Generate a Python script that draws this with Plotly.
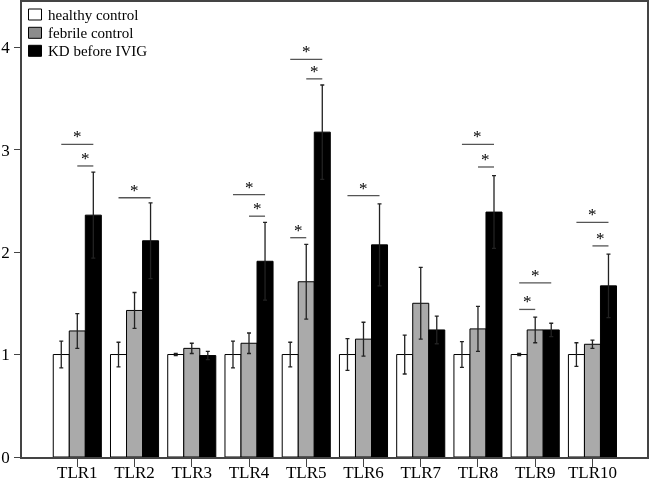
import plotly.graph_objects as go

categories = ["TLR1", "TLR2", "TLR3", "TLR4", "TLR5", "TLR6", "TLR7", "TLR8", "TLR9", "TLR10"]

healthy = [1.0, 1.0, 1.0, 1.0, 1.0, 1.0, 1.0, 1.0, 1.0, 1.0]
healthy_err = [0.13, 0.12, 0.01, 0.13, 0.12, 0.155, 0.19, 0.125, 0.01, 0.115]

febrile = [1.23, 1.43, 1.06, 1.11, 1.71, 1.15, 1.50, 1.25, 1.24, 1.10]
febrile_err = [0.17, 0.175, 0.05, 0.10, 0.365, 0.165, 0.35, 0.22, 0.125, 0.04]

kd = [2.36, 2.11, 0.99, 1.91, 3.17, 2.07, 1.24, 2.39, 1.24, 1.67]
kd_err = [0.42, 0.37, 0.04, 0.38, 0.46, 0.40, 0.135, 0.355, 0.065, 0.31]

series_names = ["healthy control", "febrile control", "KD before IVIG"]

# significance brackets: (category, from group, to group, level)
sig_cat = ["TLR1", "TLR1", "TLR2", "TLR4", "TLR4", "TLR5", "TLR5", "TLR5",
           "TLR6", "TLR8", "TLR8", "TLR9", "TLR9", "TLR10", "TLR10"]
sig_from = [0, 1, 0, 0, 1, 0, 0, 1, 0, 0, 1, 0, 0, 0, 1]
sig_to = [2, 2, 2, 2, 2, 1, 2, 2, 2, 2, 2, 2, 1, 2, 2]
sig_level = [3.05, 2.84, 2.53, 2.56, 2.35, 2.14, 3.88, 3.69,
             2.55, 3.05, 2.83, 1.70, 1.44, 2.29, 2.06]

FONT = "Liberation Serif, Times New Roman, serif"
fills = ["#ffffff", "#aaaaaa", "#000000"]
legend_fills = ["#ffffff", "#8c8c8c", "#000000"]
bargap = 0.16
bar_w = (1 - bargap) / 3
offsets = [-bar_w, 0.0, bar_w]

W, H = 650, 482
ML, MR, MT, MB = 22, 3, 2, 25
PW, PH = W - ML - MR, H - MT - MB


def px_x(px):
    return (px - ML) / PW


def px_y(py):
    return (H - MB - py) / PH


fig = go.Figure()
for name, vals, errs, col in zip(series_names, [healthy, febrile, kd],
                                 [healthy_err, febrile_err, kd_err], fills):
    fig.add_trace(go.Bar(
        x=categories, y=vals, name=name, showlegend=False,
        marker=dict(color=col, line=dict(color="#000000", width=1)),
        error_y=dict(type="data", array=errs, visible=True,
                     color="#222222", thickness=1.3, width=2),
    ))

for cat, g0, g1, lvl in zip(sig_cat, sig_from, sig_to, sig_level):
    ci = categories.index(cat)
    xa = ci + offsets[g0]
    xb = ci + offsets[g1]
    fig.add_shape(type="line", xref="x", yref="y", x0=xa, x1=xb, y0=lvl, y1=lvl,
                  line=dict(color="#555555", width=1.3))
    fig.add_annotation(x=(xa + xb) / 2, y=lvl, xref="x", yref="y", text="*",
                       showarrow=False, yanchor="bottom", yshift=-4,
                       font=dict(family=FONT, size=17, color="black"))

# legend (drawn in the upper-left corner of the plot)
row_centers = [14.5, 32.8, 50.8]
for name, col, rc in zip(series_names, legend_fills, row_centers):
    fig.add_shape(type="rect", xref="paper", yref="paper",
                  x0=px_x(28.5), x1=px_x(41.5), y0=px_y(rc + 5.5), y1=px_y(rc - 5.5),
                  fillcolor=col, line=dict(color="#000000", width=1))
    fig.add_annotation(x=px_x(46), y=px_y(rc), xref="paper", yref="paper",
                       text=name, showarrow=False, xanchor="left", yanchor="middle",
                       font=dict(family=FONT, size=15, color="black"))

fig.update_layout(
    width=W, height=H,
    margin=dict(l=ML, r=MR, t=MT, b=MB, autoexpand=False),
    paper_bgcolor="#ffffff", plot_bgcolor="#ffffff",
    barmode="group", bargap=bargap, bargroupgap=0,
    font=dict(family=FONT, size=17, color="#000000"),
    xaxis=dict(range=[-0.966, 9.953], showgrid=False, zeroline=False, automargin=False,
               showline=True, linecolor="#444444", linewidth=1.5, mirror=True,
               ticks="outside", ticklen=8, tickwidth=1.3, tickcolor="#444444",
               ticklabelstandoff=-9,
               tickfont=dict(family=FONT, size=17, color="#000000")),
    yaxis=dict(range=[0, 4.44], tickvals=[0, 1, 2, 3, 4], showgrid=False, zeroline=False,
               automargin=False,
               showline=True, linecolor="#444444", linewidth=1.5, mirror=True,
               ticks="outside", ticklen=6, tickwidth=1.3, tickcolor="#444444",
               ticklabelstandoff=1,
               tickfont=dict(family=FONT, size=17, color="#000000")),
    showlegend=False,
)

fig.write_html(
    "out.html",
    config={"displayModeBar": False},
    post_script=(
        "document.body.style.margin='0';"
        "document.body.style.overflow='hidden';"
        "var gd=document.querySelector('.plotly-graph-div');"
        "if(gd){gd.style.filter='grayscale(1)';}"
    ),
)
